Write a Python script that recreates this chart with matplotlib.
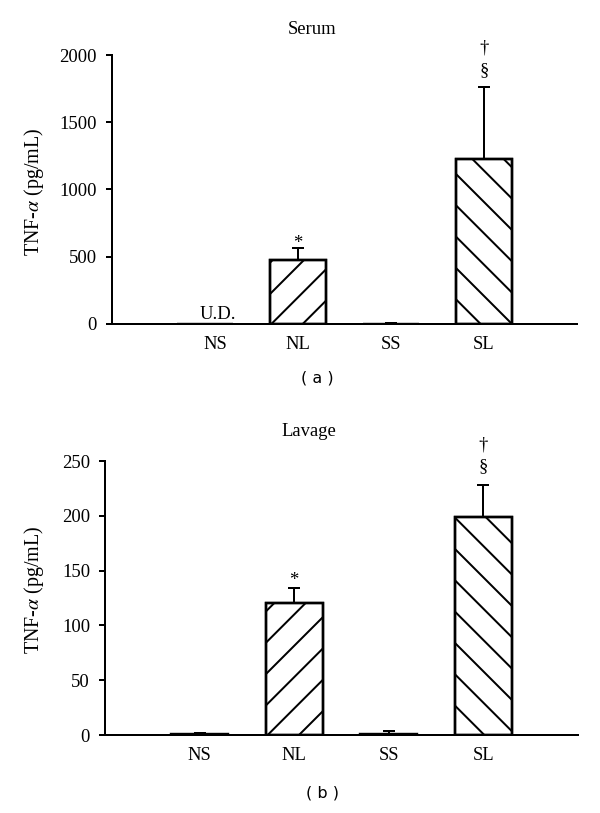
import matplotlib
matplotlib.use("Agg")
import matplotlib.pyplot as plt
import matplotlib.transforms as mtransforms

groups = ["NS", "NL", "SS", "SL"]

serum_mean = [0, 476, 3, 1227]
serum_err = [0, 88, 8, 537]

lavage_mean = [1.0, 120.5, 1.2, 199]
lavage_err = [1.2, 13.5, 2.0, 29]

hatches = ["", "//", "", "\\\\"]

DPI = 188
PX = 72.0 / DPI  # points per pixel
FS = 18.6 * PX   # main font size, in points
LW = 2 * PX

plt.rcParams["font.family"] = ["Liberation Serif", "DejaVu Serif"]
plt.rcParams["mathtext.fontset"] = "stix"
plt.rcParams["hatch.linewidth"] = 2.0 * PX
plt.rcParams["hatch.color"] = "black"

fig = plt.figure(figsize=(600 / DPI, 813 / DPI), dpi=DPI)


def panel(rect, means, errs, ymax, step, label_xy, marks):
    ax = fig.add_axes(rect)
    x = list(range(len(groups)))
    ax.bar(x, means, width=0.6, color="white", edgecolor="black",
           linewidth=2.4 * PX, zorder=2)
    for xi, m, h in zip(x, means, hatches):
        if h:
            ax.bar(xi, m, width=0.6, color="none", edgecolor="black",
                   linewidth=2.4 * PX, hatch=h, zorder=3)
    ax.errorbar(x, means, yerr=[[0] * len(errs), errs], fmt="none",
                ecolor="black", elinewidth=LW, capsize=6 * PX,
                capthick=LW, zorder=1)
    ax.set_xlim(-1, 4)
    ax.set_ylim(0, ymax)
    ax.set_yticks(range(0, ymax + 1, step))
    ax.set_xticks(x)
    ax.set_xticklabels(groups)
    for s in ("top", "right"):
        ax.spines[s].set_visible(False)
    for s in ("left", "bottom"):
        ax.spines[s].set_linewidth(LW)
    ax.tick_params(axis="y", length=6 * PX, width=LW, pad=9 * PX,
                   labelsize=FS)
    ax.tick_params(axis="x", length=0, pad=12 * PX, labelsize=FS)
    ax.set_ylabel(r"TNF-$\alpha$ (pg/mL)", fontsize=20 * PX)
    ax.yaxis.set_label_coords(*label_xy)
    for xi, txt, off in marks:
        top = means[xi] + errs[xi]
        ax.annotate(txt, xy=(xi, top), xytext=(0, off * PX),
                    textcoords="offset points", ha="center", va="baseline",
                    fontsize=FS)
    return ax


ax1 = panel([112 / 600, 1 - 324 / 813, 465 / 600, 269 / 813],
            serum_mean, serum_err, 2000, 500, (-0.142, 0.49),
            [(1, "*", 0), (3, "§", 12), (3, "†", 34)])
ax1.annotate("U.D.", xy=(0, 0), xytext=(13 * PX, 5 * PX),
             textcoords="offset points", ha="center", va="baseline",
             fontsize=FS)
lbl = ax1.get_xticklabels()[0]
lbl.set_transform(lbl.get_transform() +
                  mtransforms.ScaledTranslation(10 / DPI, 0, fig.dpi_scale_trans))

ax2 = panel([105 / 600, 1 - 735 / 813, 473 / 600, 274 / 813],
            lavage_mean, lavage_err, 250, 50, (-0.125, 0.53),
            [(1, "*", 3), (3, "§", 14), (3, "†", 36)])

fig.text(312 / 600, 1 - 29 / 813, "Serum", ha="center", va="center", fontsize=FS)
fig.text(309 / 600, 1 - 431 / 813, "Lavage", ha="center", va="center", fontsize=FS)
fig.text(317 / 600, 1 - 378 / 813, "( a )", ha="center", va="center",
         fontsize=16 * PX, family="DejaVu Sans")
fig.text(322 / 600, 1 - 793 / 813, "( b )", ha="center", va="center",
         fontsize=16 * PX, family="DejaVu Sans")

fig.savefig("out.png", dpi=DPI, facecolor="white")
